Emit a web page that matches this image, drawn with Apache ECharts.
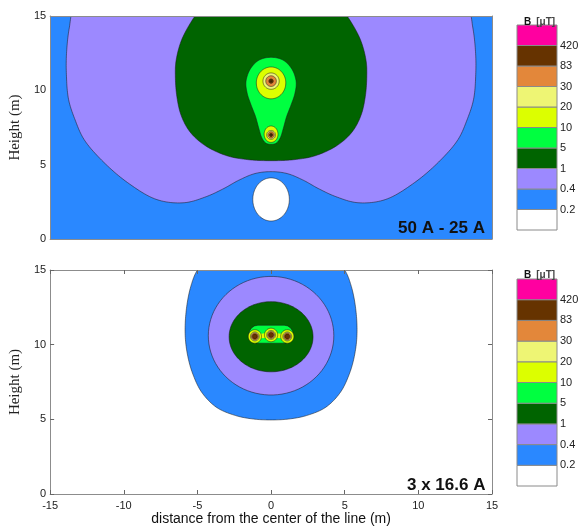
<!DOCTYPE html>
<html><head><meta charset="utf-8">
<script src="https://cdn.jsdelivr.net/npm/echarts@6/dist/echarts.min.js"></script>
<style>html,body{margin:0;padding:0;background:#fff}#c{width:587px;height:531px}</style>
</head><body><div id="c"></div>
<script>
// ---- data ----
const levelColors = ['#ffffff','#2a88ff','#9c89ff','#006400','#00ff40','#dcff00','#eef574','#e3873a','#663300','#ff00a0'];
const levelLabels = ['0.2','0.4','1','5','10','20','30','83','420'];
const xTicks = [-15, 15, 5];   // min, max, step
const yTicks = [0, 15, 5];

// top chart (50 A - 25 A): left halves of symmetric contours, [x, y]
const topLavenderHalf = [[0,17.5],[-7,17.4],[-11.8,16.8],[-13.3,15.8],[-13.7,14.2],[-13.88,12.6],[-13.9,11.2],[-13.75,9.4],[-13.3,8.0],[-12.7,6.7],[-11.5,5.3],[-9.75,3.8],[-7.75,2.65],[-5.9,2.44],[-4.4,2.85],[-3.2,3.4],[-2.2,3.95],[-1.1,4.4],[0,4.53]];
const topDarkGreenHalf = [[0,17.7],[-2.8,17.1],[-4.4,16.0],[-5.3,14.8],[-6.07,13.4],[-6.45,12.0],[-6.5,11.0],[-6.4,9.6],[-6.1,8.3],[-5.5,7.2],[-4.5,6.3],[-3.0,5.6],[-1.5,5.33],[0,5.27]];
const topGreenHalf = [[0,12.22],[-0.8,12.04],[-1.4,11.45],[-1.7,10.6],[-1.62,9.8],[-1.35,9.0],[-1.05,8.22],[-0.82,7.4],[-0.62,6.8],[-0.35,6.45],[0,6.37]];
// ellipses: [cx, cy, rx, ry, level]
const topEllipses = [[0,10.5,1.0,1.07,5],[0,7.05,0.47,0.55,5],[0,10.62,0.55,0.55,6],[0,7.0,0.3,0.3,6],[0,10.62,0.36,0.36,7],[0,7.0,0.22,0.22,7],[0,10.62,0.15,0.15,8],[0,7.0,0.12,0.12,8],[0,2.66,1.24,1.45,0]];
const topCondX = [0, 0];
const topCondY = [10.62, 7.0];

// bottom chart (3 x 16.6 A)
const bottomBlueHalf = [[0,16.5],[-2.8,16.2],[-4.3,15.7],[-5.0,15.0],[-5.45,13.9],[-5.76,12.3],[-5.83,10.6],[-5.65,9.2],[-5.3,8.0],[-4.7,6.8],[-3.7,5.8],[-2.4,5.25],[-1.2,5.02],[0,4.96]];
const bottomEllipses = [[0,10.6,4.26,3.97,2],[0,10.53,2.85,2.35,3]];
const bottomStadium = [-1.5,10.1,1.5,11.3,4]; // x0, y0, x1, y1, level
const bottomYellowNeck = [[-1.1,10.4],[0,10.48],[1.1,10.4],[1.1,10.7],[0,10.8],[-1.1,10.7]];
const bottomCondX = [-1.1, 0, 1.1];
const bottomCondY = [10.55, 10.65, 10.55];
const bottomRings = [[0.45,5],[0.3,6],[0.24,7],[0.17,8]]; // radius, level

// ---- build shapes for the custom series ----
function mirror(half){ return half.concat(half.slice(1,-1).reverse().map(p=>[-p[0],p[1]])); }
function ell(e){ return {kind:'ellipse', c:[e[0],e[1]], r:[e[2],e[3]], color:levelColors[e[4]]}; }

const topShapes = [
  {kind:'curve', pts:mirror(topLavenderHalf), color:levelColors[2]},
  {kind:'curve', pts:mirror(topDarkGreenHalf), color:levelColors[3]},
  {kind:'curve', pts:mirror(topGreenHalf), color:levelColors[4]},
  ...topEllipses.map(ell),
  ...topCondX.map((x,i)=>({kind:'ellipse', c:[x,topCondY[i]], r:[0.05,0.05], color:'#111', noStroke:true}))
];
const bottomShapes = [
  {kind:'curve', pts:mirror(bottomBlueHalf), color:levelColors[1]},
  ...bottomEllipses.map(ell),
  {kind:'rrect', x0:bottomStadium[0], y0:bottomStadium[1], x1:bottomStadium[2], y1:bottomStadium[3], color:levelColors[bottomStadium[4]]},
  {kind:'flat', pts:bottomYellowNeck, color:levelColors[5], noStroke:true}
];
bottomRings.forEach(r=>{
  bottomCondX.forEach((x,i)=>bottomShapes.push(ell([x,bottomCondY[i],r[0],r[0],r[1]])));
});

// closed centripetal Catmull-Rom curve through pixel points (drawing only)
function closedCurve(P){
  const n = P.length, out = [];
  const d = (a,b)=>Math.max(1e-4, Math.pow(Math.hypot(b[0]-a[0], b[1]-a[1]), 0.5));
  const lerp = (a,b,ta,tb,t)=>[(tb-t)/(tb-ta)*a[0]+(t-ta)/(tb-ta)*b[0], (tb-t)/(tb-ta)*a[1]+(t-ta)/(tb-ta)*b[1]];
  for (let i=0;i<n;i++){
    const p0=P[(i-1+n)%n], p1=P[i], p2=P[(i+1)%n], p3=P[(i+2)%n];
    const t0=0, t1=t0+d(p0,p1), t2=t1+d(p1,p2), t3=t2+d(p2,p3);
    for (let s=0;s<12;s++){
      const t = t1+(t2-t1)*s/12;
      const A1=lerp(p0,p1,t0,t1,t), A2=lerp(p1,p2,t1,t2,t), A3=lerp(p2,p3,t2,t3,t);
      const B1=lerp(A1,A2,t0,t2,t), B2=lerp(A2,A3,t1,t3,t);
      out.push(lerp(B1,B2,t1,t2,t));
    }
  }
  return out;
}

function makeRender(shapes){
  return function(params, api){
    const s = shapes[params.dataIndex];
    const style = {fill:s.color, stroke:s.noStroke?null:'rgba(25,25,25,0.75)', lineWidth:0.7};
    if (s.kind === 'rrect'){
      const a = api.coord([s.x0, s.y1]), b = api.coord([s.x1, s.y0]);
      const h = b[1]-a[1];
      return {type:'rect', shape:{x:a[0], y:a[1], width:b[0]-a[0], height:h, r:h/2}, style};
    }
    let pts;
    if (s.kind === 'ellipse'){
      pts = [];
      for (let k=0;k<90;k++){ const t=k/90*2*Math.PI; pts.push(api.coord([s.c[0]+s.r[0]*Math.cos(t), s.c[1]+s.r[1]*Math.sin(t)])); }
    } else {
      pts = s.pts.map(p=>api.coord(p));
      if (s.kind === 'curve') pts = closedCurve(pts);
    }
    return {type:'polygon', shape:{points:pts}, style};
  };
}
function barRender(params, api){
  const i = params.dataIndex;
  const a = api.coord([0, i+1]), b = api.coord([1, i]);
  return {type:'rect', shape:{x:a[0], y:a[1], width:b[0]-a[0], height:b[1]-a[1]}, style:{fill:levelColors[i], stroke:'#8a8a8a', lineWidth:1}};
}

const FONT = 'Liberation Sans, Arial, sans-serif';
const frame = {lineStyle:{color:'#8c8c8c', width:1}, onZero:false};
function xAx(g, pos, labels, ticks, extra){
  return Object.assign({gridIndex:g, type:'value', position:pos, min:xTicks[0], max:xTicks[1], interval:xTicks[2], z:10,
    axisLine:frame, splitLine:{show:false},
    axisTick:{show:ticks, inside:true, length:4, lineStyle:{color:'#666'}},
    axisLabel:{show:labels, fontSize:11, color:'#222', fontFamily:FONT, margin:6}}, extra||{});
}
function yAx(g, pos, labels, ticks, extra){
  return Object.assign({gridIndex:g, type:'value', position:pos, min:yTicks[0], max:yTicks[1], interval:yTicks[2], z:10,
    axisLine:frame, splitLine:{show:false},
    axisTick:{show:ticks, inside:true, length:4, lineStyle:{color:'#666'}},
    axisLabel:{show:labels, fontSize:11, color:'#222', fontFamily:FONT, margin:4}}, extra||{});
}
const yName = {name:'Height (m)', nameLocation:'middle', nameGap:16, nameTextStyle:{fontFamily:'Liberation Serif, Times New Roman, serif', fontSize:15, color:'#222'}};
function cbAxisY(g){
  return {gridIndex:g, type:'value', position:'right', min:0, max:10, interval:1,
    axisLine:{show:false}, axisTick:{show:false}, splitLine:{show:false},
    axisLabel:{fontSize:11, color:'#222', fontFamily:FONT, margin:3,
      formatter:v=> (v>=1 && v<=9) ? levelLabels[v-1] : ''}};
}
function cbAxisX(g){ return {gridIndex:g, type:'value', min:0, max:1, show:false}; }

const cbTitle = (top)=>({text:'{b|B} {u|[\u03bcT]}', left:519, top:top, textStyle:{rich:{
  b:{fontWeight:'bold', fontSize:10, color:'#111', fontFamily:FONT},
  u:{fontSize:10, color:'#444', fontFamily:FONT}}}});

const option = {
  animation:false,
  title:[
    cbTitle(8), cbTitle(261),
    {text:'50 A - 25 A', left:393, top:215, textStyle:{fontSize:17, fontWeight:'bold', color:'#111', fontFamily:FONT}},
    {text:'3 x 16.6 A', left:402, top:472, textStyle:{fontSize:17, fontWeight:'bold', color:'#111', fontFamily:FONT}}
  ],
  grid:[
    {left:45, top:16, width:447, height:223, show:true, backgroundColor:levelColors[1], borderWidth:0},
    {left:45, top:270, width:447, height:224, show:true, backgroundColor:levelColors[0], borderWidth:0},
    {left:517, top:25, width:40, height:205},
    {left:517, top:279, width:40, height:207}
  ],
  xAxis:[
    xAx(0,'bottom',false,false), xAx(0,'top',false,false),
    xAx(1,'bottom',true,true,{name:'distance from the center of the line (m)', nameLocation:'middle', nameGap:18,
      nameTextStyle:{fontSize:14, color:'#111', fontFamily:FONT}}),
    xAx(1,'top',false,true),
    cbAxisX(2), cbAxisX(3)
  ],
  yAxis:[
    yAx(0,'left',true,false,yName), yAx(0,'right',false,false),
    yAx(1,'left',true,true,yName), yAx(1,'right',false,true),
    cbAxisY(2), cbAxisY(3)
  ],
  series:[
    {type:'custom', xAxisIndex:0, yAxisIndex:0, clip:true, renderItem:makeRender(topShapes), data:topShapes.map(()=>[0,7.5]), silent:true},
    {type:'custom', xAxisIndex:2, yAxisIndex:2, clip:true, renderItem:makeRender(bottomShapes), data:bottomShapes.map(()=>[0,7.5]), silent:true},
    {type:'custom', xAxisIndex:4, yAxisIndex:4, renderItem:barRender, data:levelColors.map((c,i)=>[0.5,i+0.5]), silent:true},
    {type:'custom', xAxisIndex:5, yAxisIndex:5, renderItem:barRender, data:levelColors.map((c,i)=>[0.5,i+0.5]), silent:true}
  ]
};
const chart = echarts.init(document.getElementById('c'), null, {renderer:'canvas'});
chart.setOption(option);
</script></body></html>
